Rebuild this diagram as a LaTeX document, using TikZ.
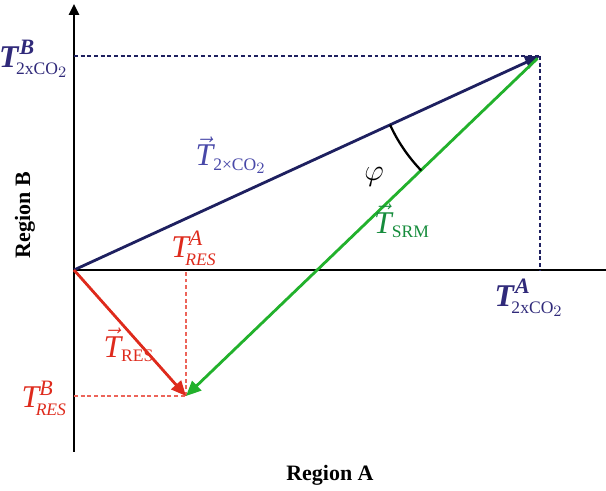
\documentclass[tikz,border=0pt]{standalone}
\usepackage{amsmath}
\usepackage{fontspec}
\setmainfont{Liberation Serif}
\usetikzlibrary{arrows.meta}
\definecolor{navyline}{RGB}{30,32,96}
\definecolor{navytext}{RGB}{48,42,122}
\definecolor{bluetext}{RGB}{72,72,168}
\definecolor{srmline}{RGB}{34,177,44}
\definecolor{srmtext}{RGB}{22,140,60}
\definecolor{resline}{RGB}{222,42,28}
\definecolor{resdash}{RGB}{236,100,90}
\newcommand{\sublbl}[1]{\text{\fontsize{10}{11}\selectfont #1}}
\newcommand{\supinf}[1]{\text{\fontsize{12.5}{13}\selectfont #1}}

\begin{document}
\begin{tikzpicture}[
    big/.style = {font=\fontsize{18}{20}\selectfont, inner sep=1pt},
    axis/.style = {line width=1.4pt},
    guide/.style = {line width=0.8pt, dash pattern=on 2.2pt off 1.6pt},
    vecline/.style = {line width=1.6pt, -{Triangle[length=3mm,width=2.6mm]}},
    region/.style = {font=\fontsize{12.5}{14}\selectfont\bfseries}]
	\useasboundingbox (-1.48,-4.42) rectangle (10.64,5.4);
	% points
	\coordinate (O) at (0,0);
	\coordinate (ytop) at (0,5.32);
	\coordinate (ybot) at (0,-3.64);
	\coordinate (xend) at (10.64,0);
	\coordinate (co2) at (9.32,4.28);
	\coordinate (res) at (2.24,-2.52);
	% axes
	\draw[axis, -{Triangle[length=2.2mm,width=2mm]}] (ybot) -- (ytop);
	\draw[axis] (O) -- (xend);
	% guides
	\draw[guide, navyline] (O |- co2) -- (co2);
	\draw[guide, navyline] (co2) -- (co2 |- O);
	\draw[guide, resdash] (res) -- (res |- O);
	\draw[guide, resdash] (O |- res) -- (res);
	% vectors
	\draw[vecline, navyline] (O) -- (co2);
	\draw[vecline, srmline, shorten <=2pt] (co2) -- (res);
	\draw[vecline, resline] (O) -- (res);
	% angle
	\draw[line width=1.3pt] (co2) ++(204.7:3.3) arc[start angle=204.7, end angle=224, radius=3.3];
	\node[big, font=\fontsize{19}{20}\selectfont] (phi) at (6.0,1.86) {$\varphi$};
	% labels
	\node[big, navytext, anchor=east] (TBco2) at (-0.08,4.22) {$\textbf{\textit{T}}^{\supinf{\textbf{\textit{B}}}}_{\!\sublbl{2xCO}_2}$};
	\node[big, navytext] (TAco2) at (9.1,-0.56) {$\textbf{\textit{T}}^{\supinf{\textbf{\textit{A}}}}_{\!\sublbl{2xCO}_2}$};
	\node[big, resline] (TAres) at (2.4,0.44) {$\textit{T}^{\supinf{\textit{A}}}_{\!\sublbl{\textit{RES}}}$};
	\node[big, resline, anchor=east] (TBres) at (-0.1,-2.56) {$\textit{T}^{\supinf{\textit{B}}}_{\!\sublbl{\textit{RES}}}$};
	\node[big, bluetext] (Vco2) at (3.14,2.3) {$\vec{\textit{T}}_{\sublbl{2×CO}_2}$};
	\node[big, srmtext] (Vsrm) at (6.56,0.98) {$\vec{\textit{T}}_{\sublbl{SRM}}$};
	\node[big, resline] (Vres) at (1.1,-1.5) {$\vec{\textit{T}}_{\sublbl{RES}}$};
	\node[region, rotate=90] (regB) at (-0.98,1.1) {Region B};
	\node[region] (regA) at (5.12,-4.1) {Region A};
\end{tikzpicture}
\end{document}
